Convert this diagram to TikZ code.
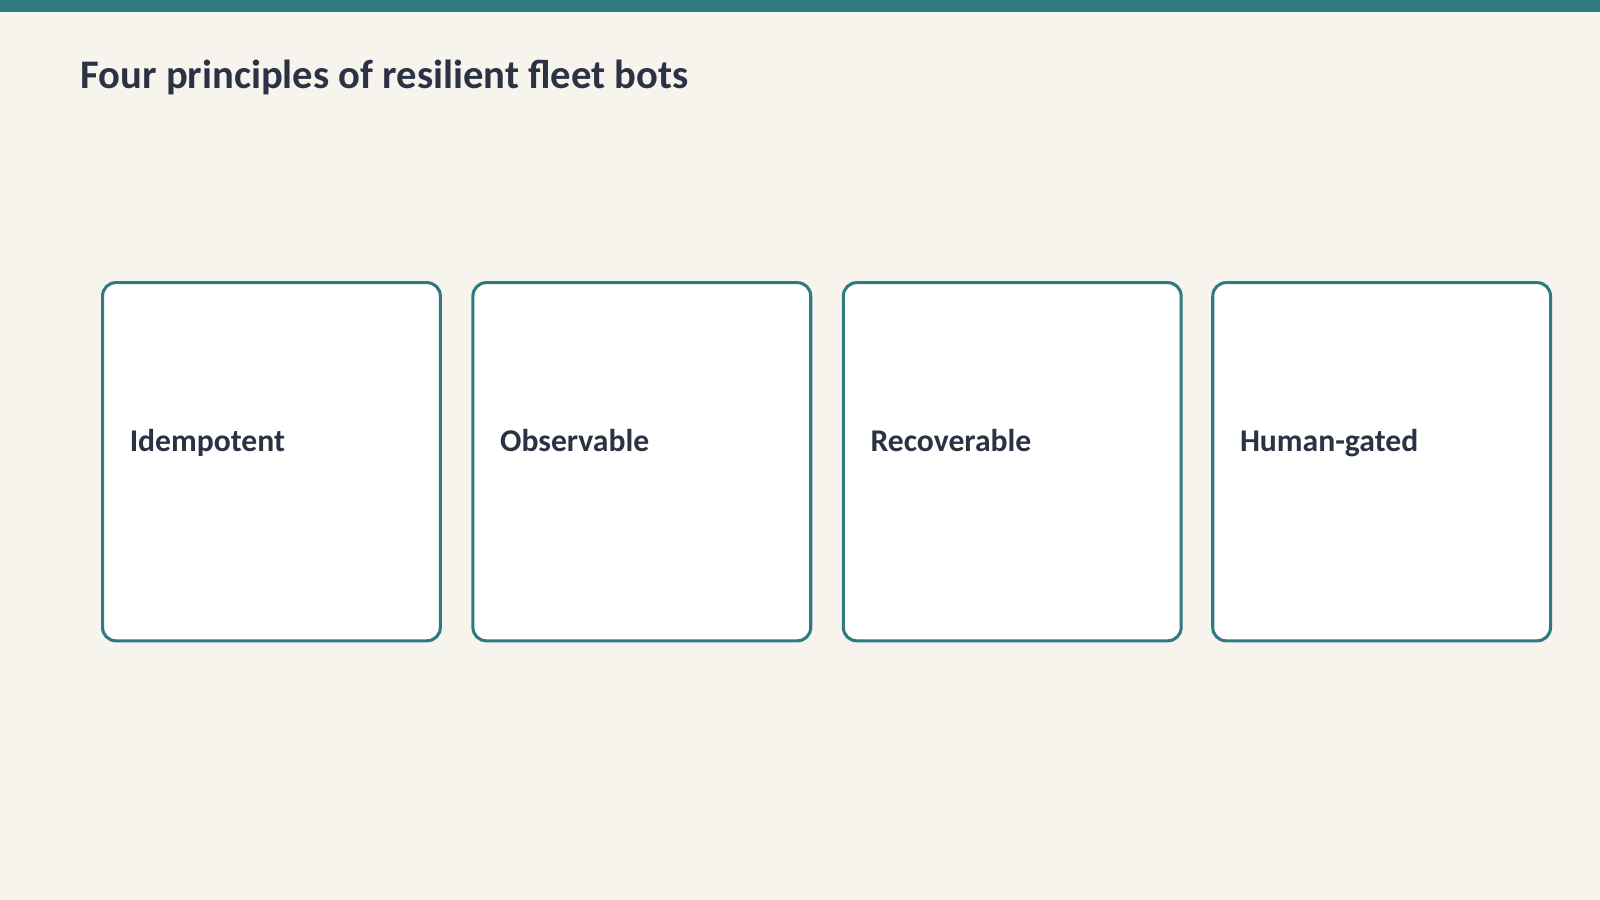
\documentclass[tikz,border=0pt]{standalone}
\usepackage{fontspec}
\setmainfont{Carlito}
\definecolor{bg}{HTML}{F7F4EE}
\definecolor{teal}{HTML}{2E7A80}
\definecolor{ink}{HTML}{2B3244}
\begin{document}
\begin{tikzpicture}[x=1pt,y=-1pt,
  card/.style={draw=teal,line width=3pt,fill=white,rounded corners=13pt,minimum width=331pt,minimum height=351pt,anchor=north west,inner sep=0pt},
  lbl/.style={anchor=base west,text=ink,font=\fontsize{31}{35}\selectfont\bfseries,inner sep=0pt}]
\fill[bg] (0,0) rectangle (1568,882);
\useasboundingbox (0,0) rectangle (1568,882);
\fill[teal] (0,0) rectangle (1568,12);
\node[anchor=base west,text=ink,font=\fontsize{39.8}{44}\selectfont\bfseries,inner sep=0pt] (title) at (79,87) {Four principles of resilient fleet bots};
\foreach \x/\t/\n in {99/Idempotent/a,462/Observable/b,825/Recoverable/c,1187/Human-gated/d}{
  \node[card] (\n) at (\x,275.5) {};
  \node[lbl] (\n l) at (\x+28,442) {\t};
}
\end{tikzpicture}
\end{document}
